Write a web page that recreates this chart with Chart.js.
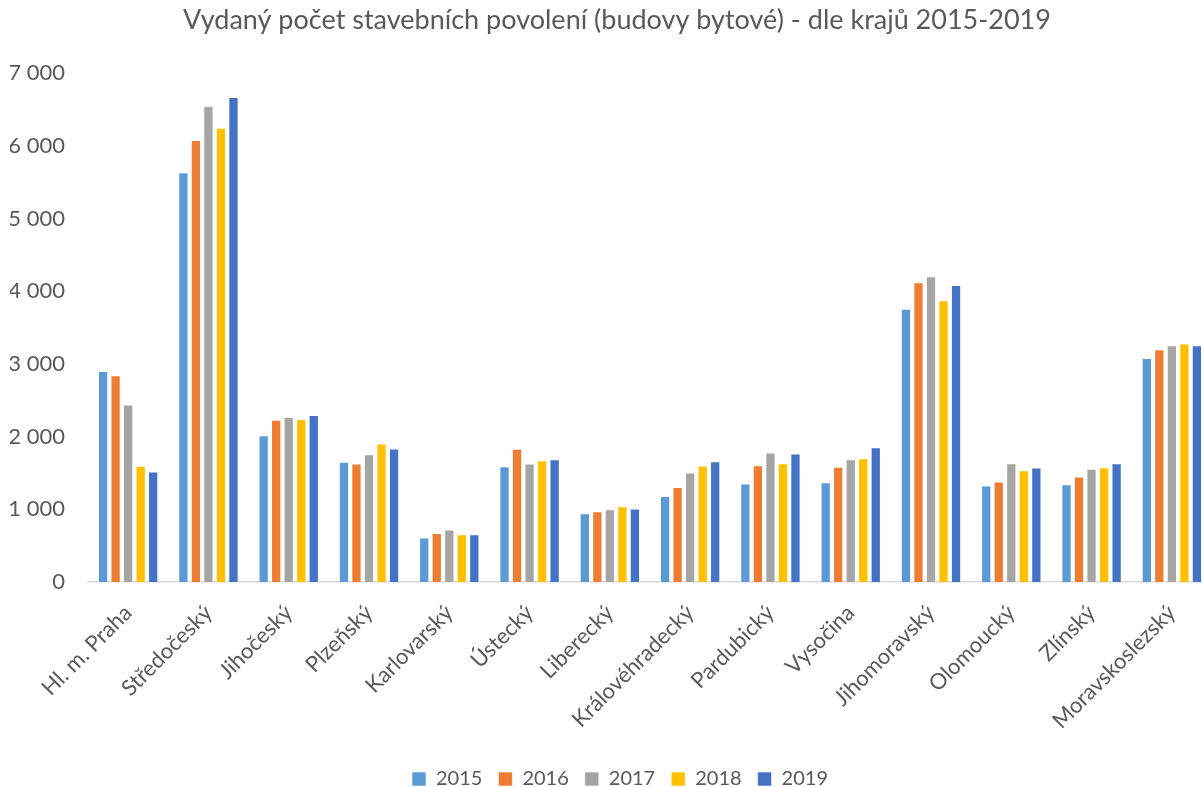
<!DOCTYPE html>
<html>
<head>
<meta charset="utf-8">
<script src="https://cdn.jsdelivr.net/npm/chart.js@4"></script>
<style>
  body { margin: 0; overflow: hidden; background: #fff; }
  #wrap { width: 1212px; height: 787px; }
</style>
</head>
<body>
<div id="wrap"><canvas id="chart" width="1212" height="787"></canvas></div>
<script>
  // regions (kraje)
  var regions = ['Hl. m. Praha', 'Středočeský', 'Jihočeský', 'Plzeňský', 'Karlovarský', 'Ústecký',
    'Liberecký', 'Královéhradecký', 'Pardubický', 'Vysočina', 'Jihomoravský', 'Olomoucký',
    'Zlínský', 'Moravskoslezský'];

  var years = ['2015', '2016', '2017', '2018', '2019'];

  var v2015 = [2904, 5641, 2019, 1655, 611, 1594, 946, 1185, 1355, 1373, 3762, 1327, 1346, 3082];
  var v2016 = [2844, 6084, 2233, 1632, 675, 1833, 974, 1309, 1608, 1585, 4125, 1383, 1452, 3202];
  var v2017 = [2443, 6555, 2270, 1758, 721, 1631, 1001, 1507, 1782, 1690, 4208, 1635, 1557, 3257];
  var v2018 = [1599, 6252, 2242, 1907, 657, 1677, 1043, 1603, 1635, 1704, 3877, 1539, 1580, 3284];
  var v2019 = [1520, 6676, 2298, 1837, 657, 1690, 1011, 1663, 1768, 1856, 4088, 1576, 1635, 3257];

  var yTicks = [0, 1000, 2000, 3000, 4000, 5000, 6000, 7000];

  var colors = ['#5b9bd5', '#ed7d31', '#a5a5a5', '#ffc000', '#4472c4'];
  var series = [v2015, v2016, v2017, v2018, v2019];

  function fmt(v) {
    return String(v).replace(/\B(?=(\d{3})+(?!\d))/g, ' ');
  }

  var datasets = [];
  for (var i = 0; i < years.length; i++) {
    datasets.push({
      label: years[i],
      data: series[i],
      backgroundColor: colors[i],
      borderColor: 'rgba(255,255,255,0.6)',
      borderWidth: 1,
      categoryPercentage: 0.78,
      barPercentage: 0.82
    });
  }

  var fontFam = 'Lato, "Open Sans", sans-serif';
  var grey = '#595959';

  // nudge title and legend a bit to the right, like the original
  var nudge = {
    id: 'nudge',
    afterLayout: function(chart) {
      chart.titleBlock.left += 6;
      chart.titleBlock.right += 6;
      chart.legend.left += 9;
      chart.legend.right += 9;
    }
  };

  var ctx = document.getElementById('chart').getContext('2d');
  var chart = new Chart(ctx, {
    type: 'bar',
    data: { labels: regions, datasets: datasets },
    plugins: [nudge],
    options: {
      responsive: false,
      animation: false,
      layout: { padding: { left: 10, right: 0, top: 4, bottom: -12 } },
      plugins: {
        title: {
          display: true,
          text: 'Vydaný počet stavebních povolení (budovy bytové) - dle krajů 2015-2019',
          color: grey,
          font: { family: fontFam, size: 27, weight: 'normal' },
          padding: { top: 0, bottom: 37 }
        },
        legend: {
          position: 'bottom',
          labels: {
            color: grey,
            font: { family: fontFam, size: 20 },
            boxWidth: 14,
            boxHeight: 14,
            padding: 16
          }
        },
        tooltip: { enabled: false }
      },
      scales: {
        x: {
          grid: { display: false, drawTicks: false },
          border: { display: true, color: '#d9d9d9', width: 1.5 },
          ticks: {
            color: grey,
            font: { family: fontFam, size: 22 },
            minRotation: 45,
            maxRotation: 45,
            padding: 18
          },
          afterFit: function(scale) {
            scale.paddingLeft = 0;
            scale.paddingRight = 0;
            scale.height = 171;
          }
        },
        y: {
          min: 0,
          max: 7000,
          afterBuildTicks: function(axis) {
            axis.ticks = yTicks.map(function(v) { return { value: v }; });
          },
          grid: { display: false, drawTicks: false },
          border: { display: false },
          ticks: {
            color: grey,
            font: { family: fontFam, size: 22 },
            padding: 23,
            callback: function(v) { return fmt(v); }
          },
          afterFit: function(scale) {
            scale.width = 78;
          }
        }
      }
    }
  });
</script>
</body>
</html>
